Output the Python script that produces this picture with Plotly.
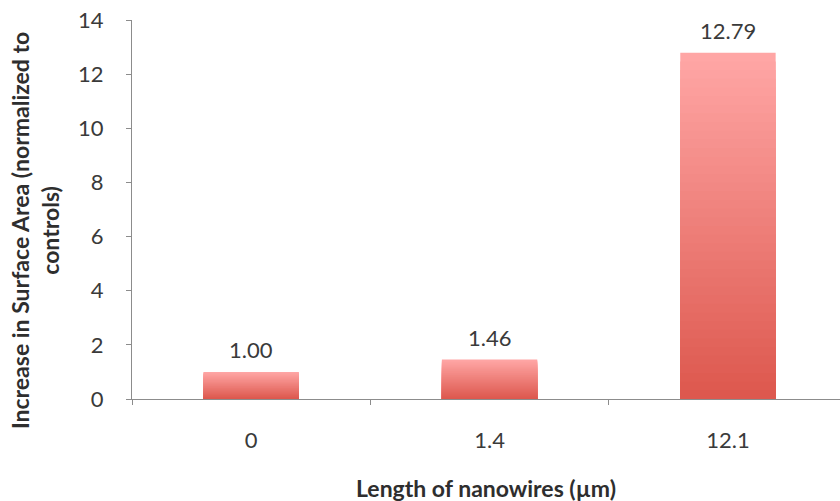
import plotly.graph_objects as go

# Data
lengths = ["0", "1.4", "12.1"]
increase = [1.00, 1.46, 12.79]
y_ticks = [0, 2, 4, 6, 8, 10, 12, 14]

FONT = "Lato, Open Sans, sans-serif"

# Vertical gradient for the bars: light pink at the top to red at the bottom
top_rgb = (255, 166, 165)
bottom_rgb = (221, 88, 78)
n_steps = 40

fig = go.Figure()
for k in range(n_steps):
    t = k / (n_steps - 1)
    r, g, b = (round(top_rgb[i] + (bottom_rgb[i] - top_rgb[i]) * t) for i in range(3))
    frac = (n_steps - k) / n_steps
    fig.add_trace(go.Bar(
        x=lengths,
        y=[v * frac for v in increase],
        width=0.4,
        marker=dict(color=f"rgb({r},{g},{b})", line=dict(width=0)),
        showlegend=False,
        hoverinfo="skip",
    ))

# Value labels above each bar (category index positions)
for i, v in enumerate(increase):
    fig.add_annotation(
        x=i, y=v, text=f"{v:.2f}", showarrow=False,
        yanchor="middle", yshift=22,
        font=dict(family=FONT, size=22, color="#3a3a3a"),
    )

# Axis titles
fig.add_annotation(
    xref="paper", yref="paper", x=0.5, y=-0.235,
    text="<b>Length of nanowires (µm)</b>", showarrow=False,
    xanchor="center", yanchor="middle",
    font=dict(family=FONT, size=23, color="#2e2e2e"),
)
fig.add_annotation(
    xref="paper", yref="paper", x=-0.137, y=0.443,
    text="<b>Increase in Surface Area (normalized to<br>controls)</b>",
    showarrow=False, textangle=-90,
    xanchor="center", yanchor="middle",
    font=dict(family=FONT, size=23, color="#2e2e2e"),
)

fig.update_layout(
    width=840, height=501,
    margin=dict(l=132, r=0, t=20, b=102),
    barmode="overlay",
    plot_bgcolor="white",
    paper_bgcolor="white",
    font=dict(family=FONT, size=22, color="#3a3a3a"),
    xaxis=dict(
        type="category",
        range=[-0.5, 2.47],
        showline=True, linecolor="#8c8c8c", linewidth=1,
        ticks="outside", ticklen=5, tickcolor="#8c8c8c",
        tickson="boundaries",
        ticklabelstandoff=22,
        showgrid=False, zeroline=False,
    ),
    yaxis=dict(
        range=[0, 14],
        tickvals=y_ticks,
        showline=True, linecolor="#8c8c8c", linewidth=1,
        ticks="outside", ticklen=5, tickcolor="#8c8c8c",
        ticklabelstandoff=18,
        showgrid=False, zeroline=False,
    ),
)

fig.write_html("out.html")
